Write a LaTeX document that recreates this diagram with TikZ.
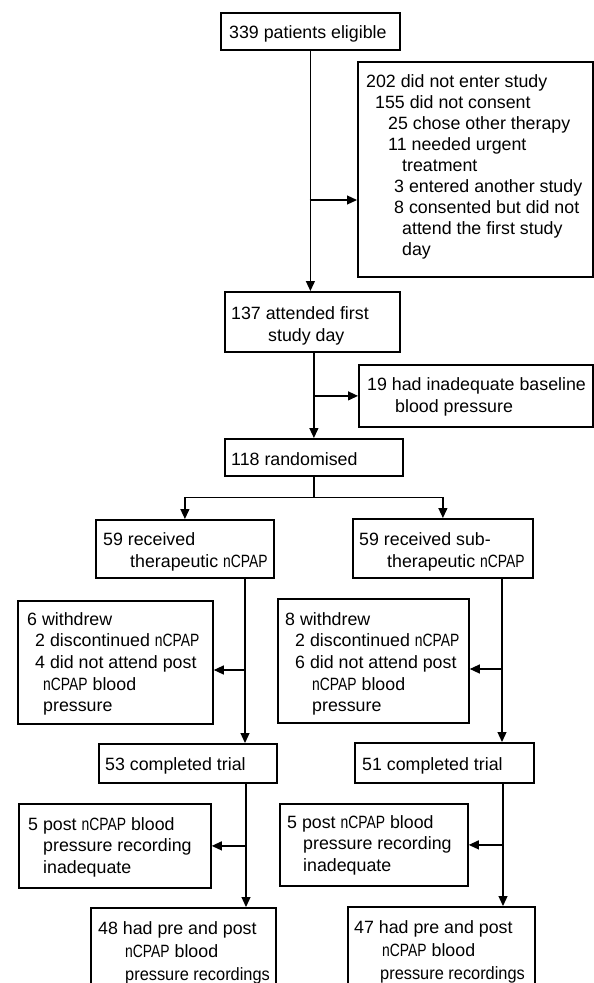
\documentclass[tikz,border=0pt]{standalone}
\usepackage{fontspec}
\setmainfont{Liberation Sans}
\newfontfamily\narrowcaps[FakeStretch=0.78]{Liberation Sans}
\newfontfamily\slimline[FakeStretch=0.92]{Liberation Sans}
\newcommand\ncpap{{\narrowcaps nCPAP}}
\usetikzlibrary{arrows.meta}
\begin{document}
\begin{tikzpicture}[x=1bp,y=-1bp,
  box/.style={draw, line width=1.8bp, inner sep=0pt, anchor=north west},
  txt/.style={inner sep=0pt, anchor=north west, align=left, font=\fontsize{17.8bp}{#1}\selectfont},
  txt/.default=21.5bp,
  link/.style={line width=1.2bp},
  arr/.style={line width=1.2bp, -{Triangle[length=10bp,width=9bp]}}]
\useasboundingbox (0,0) rectangle (594,983);
\fill[white] (0,0) rectangle (594,983);
\clip (0,0) rectangle (594,983);

% boxes
\node[box, minimum width=179bp, minimum height=37bp] (A) at (220,12) {};
\node[box, minimum width=235bp, minimum height=215bp] (X1) at (357,61) {};
\node[box, minimum width=175bp, minimum height=60bp] (B) at (224,291) {};
\node[box, minimum width=234bp, minimum height=62bp] (X2) at (358,364) {};
\node[box, minimum width=178bp, minimum height=37bp] (C) at (224,438) {};
\node[box, minimum width=178bp, minimum height=58bp] (D) at (95,519) {};
\node[box, minimum width=180bp, minimum height=59bp] (E) at (352,518) {};
\node[box, minimum width=195bp, minimum height=123bp] (W1) at (17,600) {};
\node[box, minimum width=191bp, minimum height=124bp] (W2) at (277,598) {};
\node[box, minimum width=178bp, minimum height=39bp] (F) at (98,743) {};
\node[box, minimum width=179bp, minimum height=40bp] (G) at (354,742) {};
\node[box, minimum width=192bp, minimum height=84bp] (P1) at (18,803) {};
\node[box, minimum width=188bp, minimum height=82bp] (P2) at (279,803) {};
\node[box, minimum width=185bp, minimum height=95bp] (H) at (90,907) {};
\node[box, minimum width=187bp, minimum height=96bp] (I) at (347,906) {};

% texts
\node[txt] (tA) at (229,25) {339 patients eligible};
\node[txt=21.1bp] (tX1) at (366,74) {202 did not enter study\\
\hspace*{9bp}155 did not consent\\
\hspace*{22bp}25 chose other therapy\\
\hspace*{22bp}11 needed urgent\\
\hspace*{36bp}treatment\\
\hspace*{28bp}3 entered another study\\
\hspace*{28bp}8 consented but did not\\
\hspace*{36bp}attend the first study\\
\hspace*{36bp}day};
\node[txt=22bp] (tB) at (231,306) {137 attended first\\\hspace*{37bp}study day};
\node[txt=22bp] (tX2) at (367,377) {19 had inadequate baseline\\\hspace*{28bp}blood pressure};
\node[txt] (tC) at (231,452) {118 randomised};
\node[txt=22bp] (tD) at (103,532) {59 received\\\hspace*{27bp}therapeutic \ncpap};
\node[txt=22bp] (tE) at (359,532) {59 received sub-\\\hspace*{28bp}therapeutic \ncpap};
\node[txt=21.7bp] (tW1) at (27,612) {6 withdrew\\
\hspace*{8bp}2 discontinued \ncpap\\
\hspace*{8bp}4 did not attend post\\
\hspace*{16bp}\ncpap{} blood\\
\hspace*{16bp}pressure};
\node[txt=21.7bp] (tW2) at (285,612) {8 withdrew\\
\hspace*{10bp}2 discontinued \ncpap\\
\hspace*{10bp}6 did not attend post\\
\hspace*{27bp}\ncpap{} blood\\
\hspace*{27bp}pressure};
\node[txt] (tF) at (105,757) {53 completed trial};
\node[txt] (tG) at (362,757) {51 completed trial};
\node[txt=21.5bp] (tP1) at (28,817) {5 post \ncpap{} blood\\
\hspace*{15bp}pressure recording\\
\hspace*{15bp}inadequate};
\node[txt=21.5bp] (tP2) at (287,815) {5 post \ncpap{} blood\\
\hspace*{16bp}pressure recording\\
\hspace*{16bp}inadequate};
\node[txt=23bp] (tH) at (98,921) {48 had pre and post\\
\hspace*{27bp}\ncpap{} blood\\
\hspace*{27bp}{\slimline pressure recordings}};
\node[txt=23bp] (tI) at (354,920) {47 had pre and post\\
\hspace*{28bp}\ncpap{} blood\\
\hspace*{26bp}{\slimline pressure recordings}};

% connectors
\draw[arr] (A.south) -- (A.south |- B.north);
\coordinate (j1) at (309.5,200);
\draw[arr] (j1) -- (j1 -| X1.west);
\draw[arr] (C.north |- B.south) -- (C.north);
\draw[arr] (X2.west -| C.north) -- (X2.west);
\draw[link] (C.south) -- ++(0,21) coordinate (s);
\draw[arr] (s) -| (D.north);
\draw[arr] (s) -| (E.north);
\coordinate (cl) at (245,0);
\draw[arr] (D.south -| cl) -- (F.north -| cl);
\coordinate (jw1) at (245,670);
\draw[arr] (jw1) -- (jw1 -| W1.east);
\coordinate (cr) at (502,0);
\draw[arr] (E.south -| cr) -- (G.north -| cr);
\coordinate (jw2) at (502,669);
\draw[arr] (jw2) -- (jw2 -| W2.east);
\coordinate (cl2) at (246,0);
\draw[arr] (F.south -| cl2) -- (H.north -| cl2);
\draw[arr] (P1.east -| cl2) -- (P1.east);
\coordinate (cr2) at (503,0);
\draw[arr] (G.south -| cr2) -- (I.north -| cr2);
\draw[arr] (P2.east -| cr2) -- (P2.east);
\end{tikzpicture}
\end{document}
